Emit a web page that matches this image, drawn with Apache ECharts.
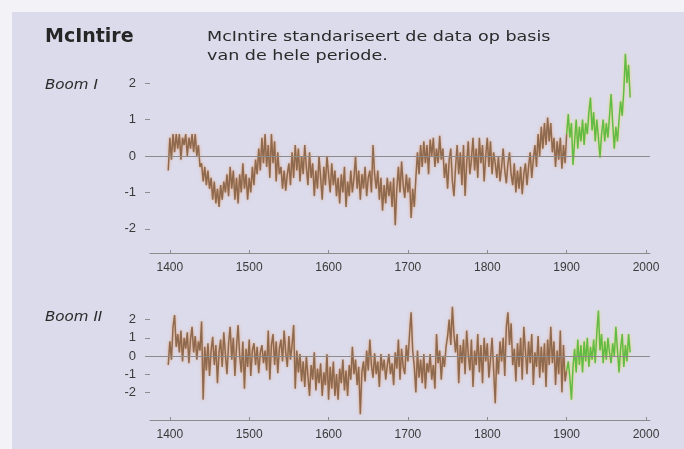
<!DOCTYPE html>
<html><head><meta charset="utf-8">
<script src="https://cdn.jsdelivr.net/npm/echarts@6/dist/echarts.min.js"></script>
<style>html,body{margin:0;padding:0;background:#f3f2f7}#c{width:684px;height:449px}</style>
</head><body><div id="c"></div>
<script>
// Tick labels
const yearTicks = [1400, 1500, 1600, 1700, 1800, 1900, 2000];
const valueTicks = [-2, -1, 0, 1, 2];
// Series start years (values every 2 years)
const brownStart = 1398;
const greenStart = 1900;
const yearStep = 2;

// Boom I (top panel), brown 1398-1900
const boomIBrown = [
-0.4,
0.5,-0.1,0.6,0.1,0.6,
0.2,0.6,-0.1,0.5,0.3,
0.6,0.0,0.5,0.2,0.6,
0.1,0.6,0.0,0.3,-0.3,
-0.2,-0.7,-0.3,-0.8,-0.4,
-0.9,-0.6,-1.2,-0.7,-1.3,
-0.9,-1.4,-0.8,-1.2,-0.7,
-1.0,-0.5,-1.1,-0.3,-0.9,
-0.4,-1.2,-0.6,-1.3,-0.5,
-1.0,-0.2,-0.9,-0.5,-1.2,
-0.6,-1.0,-0.3,-0.8,-0.1,
-0.5,0.2,-0.4,0.5,-0.2,
0.6,-0.3,0.3,-0.6,0.6,
-0.2,0.4,-0.7,0.1,-0.5,
-0.3,-0.9,-0.4,-0.95,-0.5,
-0.2,-0.8,0.1,-0.6,0.3,
-0.4,0.2,-0.7,0.0,-0.5,
0.3,-0.3,-0.8,0.1,-0.6,
-0.2,-1.1,-0.4,-0.9,0.0,
-0.6,-1.2,-0.3,-0.8,0.0,
-0.5,-1.0,-0.2,-0.8,-0.4,
-1.1,-0.6,-1.3,-0.5,-1.0,
-0.3,-1.4,-0.7,-1.1,-0.4,
-1.0,-0.6,0.0,-0.9,-0.4,
-1.2,-0.5,-0.9,-0.3,-1.1,
-0.6,-0.4,-1.0,0.3,-0.5,
-0.9,-0.4,-1.2,-0.6,-1.5,
-0.8,-1.3,-0.6,-1.1,-0.7,
-1.4,-0.6,-1.9,-0.9,-0.3,
-1.0,-0.15,-0.8,-1.15,-0.5,
-1.0,-0.6,-1.7,-0.9,-1.4,
-0.6,0.1,-0.5,0.3,-0.3,
0.4,-0.2,0.3,-0.5,0.45,
0.0,0.5,-0.3,0.2,-0.2,
0.55,-0.1,0.2,-0.6,-0.2,
-0.9,-0.1,0.2,-0.7,-1.1,
-0.3,0.3,-0.5,0.1,-0.8,
0.3,-1.1,-0.2,0.4,-0.5,
-0.1,0.5,-0.4,0.2,-0.6,
0.5,-0.2,0.3,-0.7,0.0,
0.5,-0.3,0.4,-0.5,0.1,
-0.2,-0.6,0.0,-0.7,-0.3,
0.2,-0.4,-0.75,-0.2,0.1,
-0.5,-0.8,-0.2,-1.0,-0.4,
-0.9,-0.3,-1.05,-0.5,-0.2,
-0.8,-0.3,0.1,-0.6,-0.1,
0.3,-0.3,0.6,0.0,0.8,
0.2,0.9,0.3,1.05,0.4,
0.9,0.1,0.5,-0.3,0.4,
-0.1,0.5,-0.35,0.3,-0.2,
0.6
];
// Boom I, green 1900-1980
const boomIGreen = [
0.6,1.15,0.5,0.9,-0.25,
0.4,1.0,0.2,0.8,0.4,
1.0,0.3,0.9,0.6,1.2,
1.6,0.7,1.2,0.4,1.0,
0.5,-0.05,0.6,1.0,0.4,
0.9,0.5,1.1,1.7,0.9,
0.2,0.8,0.4,1.0,1.5,
1.1,1.8,2.8,2.0,2.5,
1.6
];
// Boom II (bottom panel), brown 1398-1900
const boomIIBrown = [
-0.5,
0.8,-0.2,1.6,2.25,0.5,
1.2,0.2,1.4,-0.3,1.0,
0.4,1.3,-0.4,0.9,1.6,
0.2,1.1,-0.2,0.8,0.3,
1.9,-2.4,0.5,-0.8,0.7,
-1.1,0.3,1.05,-0.5,0.6,
-1.5,0.2,0.9,-0.6,1.3,
0.1,-1.0,0.7,1.6,-0.2,
1.0,-1.1,0.5,1.7,0.0,
-0.9,0.8,-1.8,0.4,-0.6,
0.9,-1.1,0.3,0.7,-0.5,
0.5,-0.95,0.2,0.6,-0.4,
0.3,-0.8,1.4,-1.3,0.6,
1.2,-0.5,0.8,-0.95,0.4,
0.9,-0.3,1.4,0.2,-0.6,
1.1,-0.2,0.6,1.7,-1.8,
0.3,-0.9,0.1,-1.4,-0.3,
-1.7,0.0,-1.1,-2.2,-0.5,
-1.3,0.2,-1.9,-0.7,-1.5,
-0.4,-2.2,-0.9,-1.6,0.1,
-2.4,-0.6,-1.8,-0.3,-2.2,
-1.0,-2.4,-0.7,-1.5,-0.2,
-1.9,-0.8,-2.2,-0.5,-1.3,
0.5,-1.0,-0.2,-1.6,-0.6,
-3.2,-0.9,-0.3,-1.4,0.3,
-0.8,0.9,-0.5,-1.2,0.15,
-1.0,-0.3,-1.7,0.1,-0.8,
-0.2,-1.3,-0.5,0.1,-1.0,
-0.4,-1.6,0.2,-0.7,0.9,
-1.3,0.4,-0.6,-1.0,0.6,
-0.3,1.2,2.4,0.3,-0.6,
-2.0,0.3,-1.2,-0.2,-1.5,
0.1,-1.8,-0.4,-0.9,0.1,
-1.3,-0.5,-1.8,1.2,-0.4,
0.3,-1.3,0.0,-0.6,0.5,
1.1,2.0,0.6,2.7,1.2,
0.2,1.2,-1.5,0.6,-0.4,
0.9,-1.0,1.4,0.1,-0.8,
0.9,-1.7,0.3,-0.5,1.2,
-0.9,0.6,-1.5,1.0,-0.3,
0.7,-1.2,-0.2,1.0,-0.8,
-2.6,0.1,-1.0,0.8,-0.3,
1.0,-1.1,1.6,2.4,0.6,
1.8,-0.5,0.4,-1.4,0.7,
-0.6,1.0,-1.3,1.6,0.3,
-1.0,0.8,-0.4,1.2,-1.6,
0.2,-0.6,1.1,-1.2,0.5,
-0.9,0.7,-1.7,0.9,-0.5,
1.6,-0.4,0.8,-1.6,0.3,
-1.0,1.4,-2.0,0.6,-1.4,
-0.8
];
// Boom II, green 1900-1980
const boomIIGreen = [
-0.8,-0.3,-1.2,-2.4,-0.6,
0.4,-0.9,0.9,-0.5,0.6,
-0.9,0.8,-0.3,1.0,-0.6,
0.5,-0.2,0.9,-0.4,1.3,
2.5,0.3,1.2,-0.4,0.8,
-0.2,1.0,0.2,-0.4,0.7,
0.0,1.6,0.3,-0.9,0.4,
1.2,-0.6,0.6,-0.3,1.2,
0.2
];

function pairs(start, vals) { return vals.map((v, i) => [start + i * yearStep, v]); }

const chart = echarts.init(document.getElementById('c'), null, {renderer: 'canvas'});
const axisGray = '#8c8c8c';
const labelColor = '#3a3a3a';
const font = 'Liberation Sans, Arial, sans-serif';

function xAxisCfg(gi) {
  return {
    type: 'value', gridIndex: gi, min: 1375, max: 2005,
    axisLine: {show: true, onZero: false, lineStyle: {color: axisGray, width: 1}},
    axisTick: {show: true, inside: true, length: 3, customValues: yearTicks, lineStyle: {color: axisGray}},
    axisLabel: {customValues: yearTicks, color: labelColor, fontSize: 12, fontFamily: font, margin: 9,
      formatter: v => String(v)},
    splitLine: {show: false}
  };
}
function yAxisCfg(gi, mn, mx) {
  return {
    type: 'value', gridIndex: gi, min: mn, max: mx,
    axisLine: {show: false},
    axisTick: {show: true, length: 5, customValues: valueTicks, lineStyle: {color: axisGray}},
    axisLabel: {customValues: valueTicks, color: labelColor, fontSize: 13, fontFamily: font, margin: 14},
    splitLine: {show: false}
  };
}
const zeroLine = {silent: true, symbol: 'none', label: {show: false},
  lineStyle: {color: '#8e8a8a', width: 1, type: 'solid'}, data: [{yAxis: 0}]};
function lineSeries(xi, data, color, glow, withZero) {
  const s = {type: 'line', xAxisIndex: xi, yAxisIndex: xi, data: data, showSymbol: false,
    symbol: 'none', sampling: null, animation: false,
    lineStyle: {color: color, width: 1.5, shadowColor: glow, shadowBlur: 3}};
  if (withZero) s.markLine = zeroLine;
  return s;
}

chart.setOption({
  animation: false,
  backgroundColor: '#f3f2f7',
  graphic: [
    {type: 'rect', shape: {x: 12, y: 12, width: 690, height: 450}, style: {fill: '#dcdbeb'}, z: -10},
    {type: 'text', x: 45, y: 28, style: {text: 'McIntire', font: 'bold 19px DejaVu Sans, sans-serif', fill: '#262626'}},
    {type: 'text', x: 207, y: 28, scaleX: 1.3, style: {text: 'McIntire standariseert de data op basis\nvan de hele periode.', font: '13.5px DejaVu Sans, sans-serif', fill: '#2a2a2a', lineHeight: 19}},
    {type: 'text', x: 45, y: 78, scaleX: 1.12, style: {text: 'Boom I', font: 'italic 13.5px DejaVu Sans, sans-serif', fill: '#2a2a2a'}},
    {type: 'text', x: 45, y: 310, scaleX: 1.12, style: {text: 'Boom II', font: 'italic 13.5px DejaVu Sans, sans-serif', fill: '#2a2a2a'}}
  ],
  grid: [
    {left: 150, top: 46.5, width: 500, height: 206.5},
    {left: 150, top: 301.4, width: 500, height: 118.6}
  ],
  xAxis: [xAxisCfg(0), xAxisCfg(1)],
  yAxis: [yAxisCfg(0, -2.66, 3), yAxisCfg(1, -3.52, 3)],
  series: [
    lineSeries(0, pairs(brownStart, boomIBrown), '#8d6a4f', 'rgba(235,150,90,0.8)', true),
    lineSeries(0, pairs(greenStart, boomIGreen), '#62bb47', 'rgba(225,220,70,0.8)', false),
    lineSeries(1, pairs(brownStart, boomIIBrown), '#8d6a4f', 'rgba(235,150,90,0.8)', true),
    lineSeries(1, pairs(greenStart, boomIIGreen), '#62bb47', 'rgba(225,220,70,0.8)', false)
  ]
});
</script></body></html>
